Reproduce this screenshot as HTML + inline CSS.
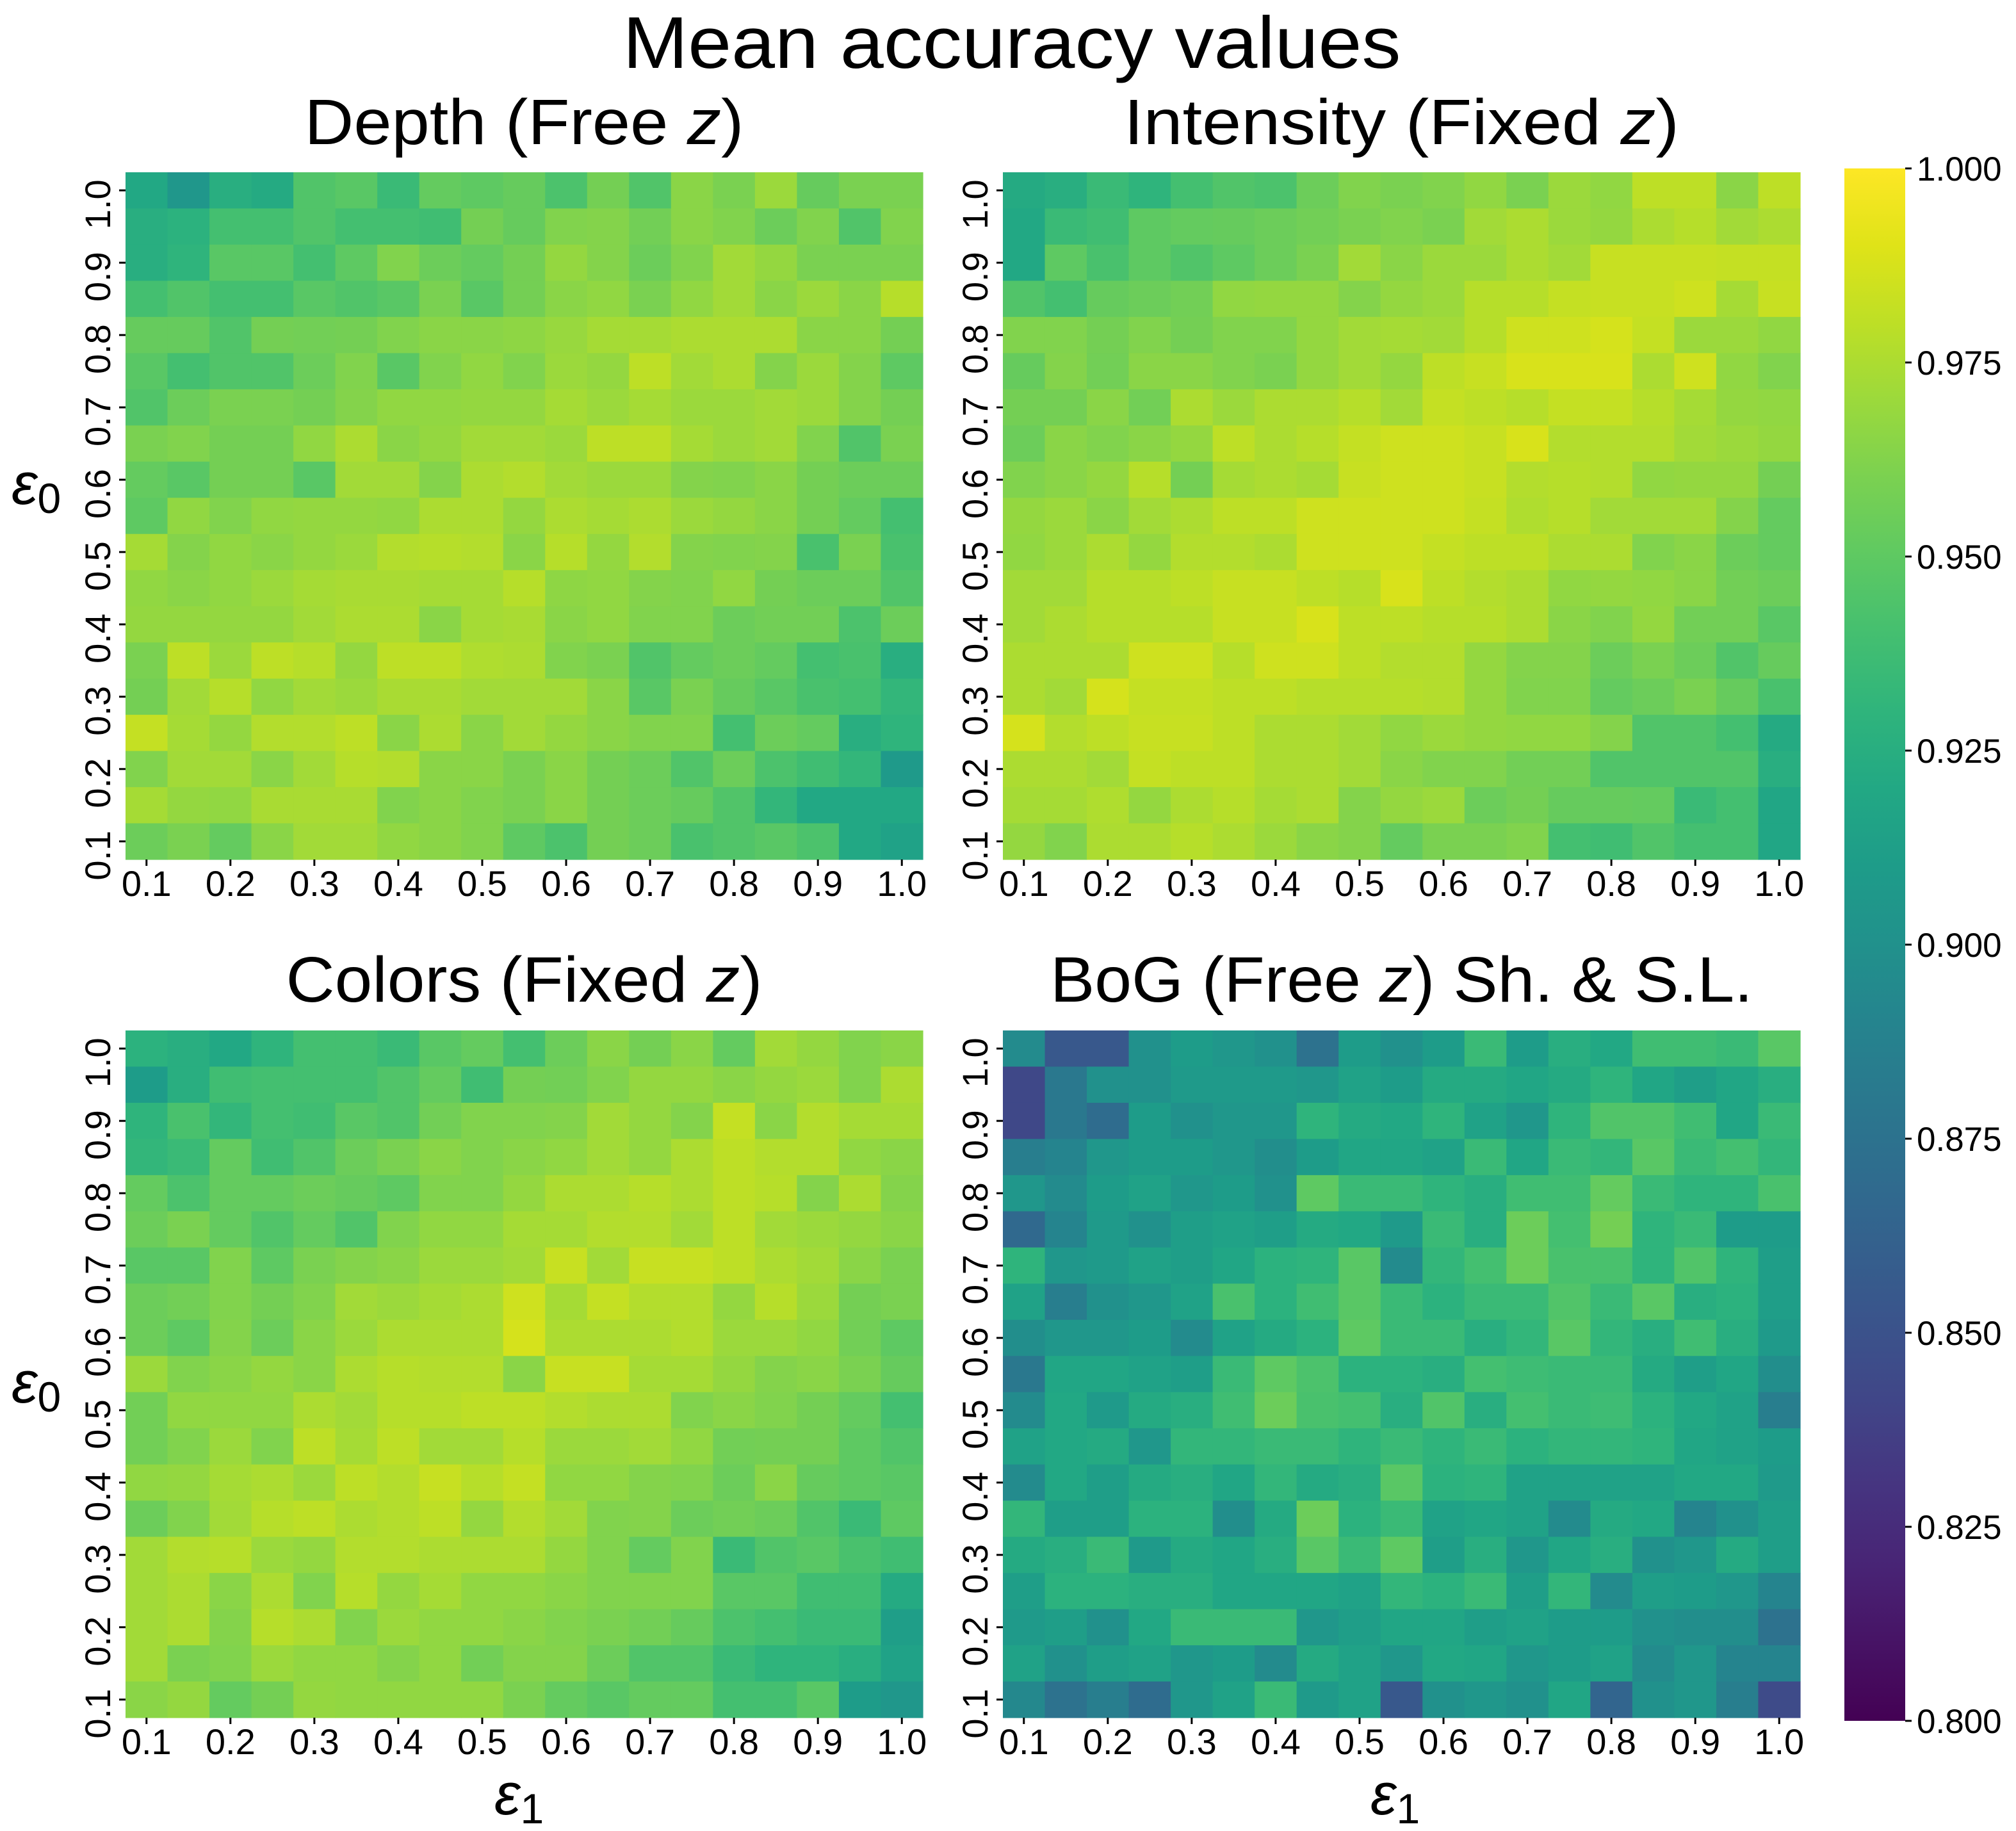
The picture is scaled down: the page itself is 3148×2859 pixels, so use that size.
<!DOCTYPE html>
<html><head><meta charset="utf-8"><style>
html,body{margin:0;padding:0;background:#fff;}
svg{display:block;font-family:"Liberation Sans","DejaVu Sans",sans-serif;}
</style></head><body>
<svg id="fig" width="3148" height="2859" viewBox="0 0 3148 2859" xmlns="http://www.w3.org/2000/svg">
<text x="1580" y="106" font-size="114" text-anchor="middle" textLength="1215" lengthAdjust="spacingAndGlyphs">Mean accuracy values</text>
</svg>
<script>
const epsValues = [0.1,0.15,0.2,0.25,0.3,0.35,0.4,0.45,0.5,0.55,0.6,0.65,0.7,0.75,0.8,0.85,0.9,0.95,1.0];
const xTickLabels = ["0.1","0.2","0.3","0.4","0.5","0.6","0.7","0.8","0.9","1.0"];
const yTickLabels = ["1.0","0.9","0.8","0.7","0.6","0.5","0.4","0.3","0.2","0.1"];
const cbarTicks = [1.000,0.975,0.950,0.925,0.900,0.875,0.850,0.825,0.800];
const vmin = 0.8, vmax = 1.0;
// rows: top (eps0=1.0) to bottom (eps0=0.1); columns eps1 0.1..1.0
const depthValues = [
[0.92,0.905,0.925,0.922,0.945,0.948,0.935,0.952,0.95,0.953,0.943,0.958,0.945,0.965,0.96,0.97,0.953,0.96,0.96],
[0.925,0.928,0.94,0.94,0.945,0.94,0.94,0.938,0.958,0.953,0.962,0.963,0.957,0.965,0.962,0.955,0.962,0.945,0.962],
[0.925,0.93,0.948,0.948,0.94,0.95,0.962,0.955,0.952,0.958,0.968,0.963,0.955,0.962,0.972,0.968,0.96,0.96,0.96],
[0.94,0.945,0.94,0.94,0.948,0.945,0.948,0.96,0.948,0.958,0.965,0.967,0.96,0.967,0.972,0.965,0.97,0.965,0.978],
[0.953,0.953,0.945,0.958,0.957,0.958,0.962,0.965,0.965,0.966,0.969,0.973,0.973,0.975,0.975,0.975,0.965,0.965,0.958],
[0.948,0.94,0.945,0.945,0.955,0.962,0.948,0.962,0.967,0.962,0.97,0.968,0.98,0.972,0.975,0.963,0.97,0.963,0.95],
[0.945,0.955,0.96,0.96,0.958,0.963,0.967,0.967,0.968,0.968,0.973,0.97,0.973,0.97,0.97,0.972,0.97,0.963,0.958],
[0.96,0.962,0.958,0.958,0.967,0.975,0.965,0.968,0.972,0.972,0.97,0.98,0.98,0.973,0.97,0.972,0.962,0.945,0.96],
[0.952,0.948,0.958,0.958,0.948,0.972,0.972,0.963,0.975,0.977,0.972,0.97,0.97,0.963,0.962,0.965,0.958,0.955,0.955],
[0.95,0.967,0.962,0.967,0.968,0.968,0.967,0.975,0.975,0.968,0.975,0.973,0.975,0.97,0.968,0.965,0.958,0.952,0.94],
[0.973,0.963,0.967,0.965,0.968,0.97,0.977,0.978,0.977,0.965,0.978,0.968,0.977,0.963,0.962,0.963,0.942,0.96,0.942],
[0.967,0.965,0.967,0.97,0.973,0.974,0.974,0.973,0.973,0.978,0.966,0.967,0.963,0.962,0.967,0.958,0.955,0.955,0.945],
[0.968,0.968,0.968,0.968,0.972,0.975,0.975,0.965,0.973,0.974,0.965,0.967,0.962,0.962,0.955,0.957,0.957,0.943,0.955],
[0.96,0.98,0.97,0.98,0.978,0.968,0.98,0.98,0.976,0.975,0.962,0.96,0.945,0.952,0.955,0.952,0.94,0.942,0.925],
[0.958,0.972,0.978,0.967,0.972,0.97,0.974,0.974,0.972,0.972,0.972,0.965,0.948,0.96,0.953,0.948,0.942,0.94,0.932],
[0.982,0.973,0.968,0.977,0.977,0.98,0.965,0.975,0.965,0.972,0.968,0.965,0.962,0.962,0.94,0.955,0.952,0.925,0.93],
[0.962,0.972,0.972,0.965,0.972,0.978,0.977,0.965,0.965,0.96,0.965,0.958,0.955,0.945,0.955,0.943,0.938,0.932,0.908],
[0.973,0.968,0.967,0.974,0.974,0.974,0.962,0.965,0.962,0.96,0.965,0.958,0.955,0.953,0.945,0.932,0.92,0.92,0.92],
[0.955,0.96,0.952,0.965,0.972,0.972,0.967,0.965,0.962,0.95,0.943,0.958,0.955,0.942,0.945,0.948,0.943,0.92,0.915]];
const intensityValues = [
[0.922,0.925,0.935,0.93,0.94,0.945,0.943,0.955,0.962,0.96,0.962,0.967,0.96,0.97,0.967,0.98,0.98,0.965,0.98],
[0.92,0.935,0.938,0.95,0.952,0.953,0.955,0.957,0.96,0.962,0.96,0.972,0.975,0.97,0.968,0.975,0.978,0.972,0.975],
[0.92,0.95,0.942,0.95,0.945,0.95,0.955,0.96,0.972,0.965,0.97,0.97,0.975,0.972,0.983,0.983,0.983,0.982,0.982],
[0.945,0.94,0.953,0.955,0.957,0.967,0.968,0.968,0.963,0.968,0.97,0.978,0.978,0.982,0.983,0.983,0.985,0.973,0.983],
[0.962,0.962,0.958,0.962,0.958,0.962,0.962,0.968,0.972,0.973,0.972,0.978,0.985,0.985,0.987,0.982,0.97,0.97,0.967],
[0.953,0.963,0.957,0.965,0.965,0.962,0.96,0.968,0.972,0.968,0.98,0.983,0.988,0.988,0.988,0.975,0.985,0.967,0.962],
[0.958,0.958,0.965,0.957,0.975,0.97,0.975,0.975,0.978,0.972,0.982,0.98,0.978,0.982,0.982,0.978,0.973,0.968,0.967],
[0.955,0.965,0.962,0.965,0.968,0.98,0.975,0.978,0.982,0.985,0.985,0.983,0.988,0.977,0.977,0.977,0.972,0.97,0.968],
[0.962,0.965,0.968,0.978,0.958,0.973,0.975,0.973,0.983,0.985,0.985,0.983,0.977,0.978,0.977,0.967,0.968,0.968,0.958],
[0.968,0.97,0.965,0.972,0.975,0.98,0.98,0.985,0.985,0.985,0.985,0.982,0.976,0.978,0.972,0.972,0.972,0.963,0.952],
[0.967,0.97,0.975,0.968,0.977,0.977,0.975,0.985,0.985,0.985,0.982,0.98,0.98,0.975,0.975,0.962,0.965,0.955,0.952],
[0.972,0.972,0.978,0.978,0.98,0.983,0.983,0.98,0.978,0.988,0.98,0.977,0.975,0.967,0.968,0.967,0.965,0.957,0.955],
[0.972,0.975,0.978,0.978,0.978,0.983,0.983,0.988,0.98,0.98,0.978,0.978,0.975,0.965,0.962,0.968,0.957,0.957,0.948],
[0.975,0.975,0.975,0.985,0.985,0.978,0.985,0.985,0.98,0.977,0.977,0.968,0.963,0.963,0.955,0.96,0.955,0.945,0.953],
[0.975,0.972,0.987,0.982,0.982,0.98,0.98,0.978,0.978,0.978,0.977,0.968,0.962,0.962,0.952,0.955,0.96,0.953,0.942],
[0.987,0.977,0.98,0.983,0.983,0.98,0.975,0.975,0.972,0.967,0.97,0.968,0.967,0.967,0.963,0.945,0.945,0.94,0.922],
[0.975,0.975,0.972,0.982,0.98,0.98,0.975,0.975,0.972,0.965,0.962,0.962,0.957,0.957,0.945,0.945,0.945,0.945,0.925],
[0.973,0.973,0.976,0.968,0.975,0.978,0.973,0.975,0.963,0.968,0.97,0.955,0.958,0.953,0.953,0.952,0.935,0.94,0.918],
[0.968,0.962,0.975,0.975,0.978,0.975,0.97,0.965,0.963,0.952,0.96,0.96,0.962,0.94,0.938,0.945,0.94,0.94,0.918]];
const colorsValues = [
[0.928,0.925,0.92,0.93,0.94,0.94,0.935,0.948,0.952,0.94,0.955,0.965,0.958,0.965,0.952,0.972,0.968,0.962,0.965],
[0.91,0.925,0.938,0.94,0.94,0.94,0.945,0.952,0.938,0.958,0.957,0.962,0.968,0.968,0.965,0.968,0.97,0.962,0.975],
[0.93,0.942,0.932,0.94,0.938,0.948,0.945,0.957,0.962,0.962,0.963,0.972,0.968,0.963,0.982,0.965,0.977,0.973,0.973],
[0.932,0.935,0.952,0.938,0.945,0.955,0.96,0.965,0.962,0.965,0.967,0.972,0.968,0.975,0.98,0.977,0.977,0.967,0.965],
[0.952,0.943,0.952,0.952,0.955,0.953,0.95,0.962,0.962,0.968,0.975,0.975,0.978,0.975,0.98,0.978,0.963,0.975,0.963],
[0.955,0.96,0.952,0.945,0.952,0.945,0.962,0.967,0.967,0.973,0.973,0.977,0.977,0.972,0.98,0.972,0.97,0.968,0.965],
[0.948,0.948,0.962,0.95,0.96,0.963,0.965,0.97,0.97,0.972,0.983,0.972,0.983,0.983,0.98,0.975,0.972,0.965,0.96],
[0.955,0.957,0.962,0.958,0.962,0.972,0.97,0.973,0.975,0.985,0.973,0.982,0.977,0.977,0.968,0.978,0.97,0.958,0.96],
[0.955,0.95,0.963,0.955,0.965,0.97,0.975,0.975,0.975,0.987,0.975,0.975,0.975,0.977,0.97,0.97,0.967,0.957,0.95],
[0.97,0.962,0.965,0.968,0.965,0.975,0.978,0.977,0.977,0.965,0.983,0.983,0.973,0.973,0.968,0.963,0.965,0.96,0.953],
[0.957,0.967,0.967,0.967,0.975,0.972,0.978,0.978,0.98,0.98,0.977,0.975,0.975,0.962,0.965,0.962,0.958,0.952,0.94],
[0.957,0.962,0.97,0.962,0.98,0.973,0.98,0.972,0.972,0.978,0.97,0.97,0.972,0.967,0.957,0.958,0.958,0.95,0.945],
[0.967,0.968,0.973,0.975,0.97,0.98,0.977,0.983,0.978,0.982,0.967,0.967,0.963,0.962,0.955,0.965,0.953,0.95,0.948],
[0.955,0.962,0.972,0.978,0.98,0.975,0.977,0.98,0.968,0.977,0.972,0.962,0.963,0.955,0.957,0.955,0.945,0.935,0.95],
[0.972,0.977,0.978,0.97,0.968,0.977,0.977,0.975,0.975,0.975,0.968,0.962,0.952,0.962,0.935,0.945,0.948,0.942,0.938],
[0.972,0.975,0.965,0.975,0.962,0.978,0.968,0.973,0.967,0.967,0.965,0.962,0.962,0.962,0.948,0.948,0.938,0.938,0.922],
[0.972,0.975,0.963,0.978,0.975,0.962,0.97,0.967,0.967,0.965,0.962,0.96,0.957,0.953,0.943,0.94,0.935,0.935,0.912],
[0.972,0.96,0.962,0.97,0.967,0.967,0.963,0.967,0.957,0.963,0.963,0.955,0.945,0.945,0.935,0.93,0.93,0.925,0.915],
[0.965,0.968,0.952,0.958,0.968,0.967,0.967,0.967,0.967,0.96,0.952,0.948,0.952,0.952,0.94,0.94,0.948,0.91,0.905]];
const bogValues = [
[0.895,0.855,0.855,0.9,0.91,0.905,0.9,0.875,0.91,0.9,0.91,0.935,0.91,0.925,0.92,0.938,0.938,0.935,0.948],
[0.843,0.88,0.9,0.9,0.908,0.908,0.908,0.905,0.915,0.91,0.922,0.922,0.918,0.922,0.93,0.918,0.912,0.918,0.925],
[0.843,0.88,0.87,0.91,0.9,0.905,0.905,0.93,0.922,0.92,0.93,0.915,0.905,0.93,0.945,0.945,0.938,0.918,0.935],
[0.885,0.89,0.905,0.91,0.91,0.905,0.898,0.91,0.918,0.918,0.915,0.935,0.918,0.935,0.932,0.948,0.935,0.94,0.932],
[0.905,0.895,0.91,0.915,0.905,0.91,0.9,0.95,0.935,0.935,0.93,0.925,0.938,0.938,0.952,0.935,0.93,0.93,0.942],
[0.868,0.89,0.908,0.9,0.912,0.915,0.912,0.922,0.92,0.908,0.935,0.925,0.955,0.94,0.958,0.93,0.935,0.91,0.91],
[0.93,0.905,0.908,0.915,0.912,0.918,0.928,0.93,0.948,0.895,0.932,0.94,0.955,0.942,0.942,0.93,0.945,0.93,0.912],
[0.915,0.885,0.9,0.905,0.915,0.942,0.928,0.938,0.948,0.935,0.928,0.935,0.935,0.945,0.935,0.948,0.925,0.928,0.912],
[0.898,0.905,0.905,0.91,0.895,0.915,0.922,0.928,0.95,0.935,0.935,0.925,0.932,0.948,0.932,0.925,0.938,0.925,0.908],
[0.88,0.918,0.918,0.915,0.912,0.935,0.95,0.943,0.928,0.928,0.925,0.94,0.937,0.935,0.935,0.922,0.912,0.918,0.898],
[0.895,0.92,0.908,0.922,0.925,0.938,0.955,0.942,0.94,0.925,0.945,0.925,0.94,0.935,0.937,0.928,0.92,0.915,0.885],
[0.915,0.92,0.922,0.905,0.932,0.932,0.935,0.935,0.93,0.935,0.93,0.935,0.928,0.932,0.932,0.93,0.918,0.915,0.91],
[0.895,0.92,0.912,0.922,0.925,0.918,0.932,0.922,0.925,0.948,0.928,0.93,0.915,0.915,0.915,0.915,0.92,0.92,0.908],
[0.932,0.912,0.912,0.928,0.928,0.898,0.922,0.955,0.928,0.935,0.915,0.918,0.915,0.895,0.922,0.92,0.89,0.9,0.912],
[0.922,0.925,0.935,0.908,0.922,0.918,0.925,0.948,0.935,0.95,0.912,0.925,0.905,0.918,0.925,0.9,0.905,0.922,0.912],
[0.912,0.928,0.928,0.925,0.925,0.918,0.918,0.918,0.915,0.932,0.928,0.935,0.912,0.932,0.895,0.912,0.91,0.905,0.89],
[0.908,0.912,0.9,0.92,0.935,0.935,0.935,0.905,0.912,0.918,0.918,0.912,0.915,0.91,0.91,0.9,0.898,0.898,0.875],
[0.915,0.9,0.912,0.915,0.905,0.91,0.895,0.922,0.915,0.905,0.92,0.918,0.905,0.91,0.915,0.895,0.905,0.89,0.89],
[0.893,0.875,0.885,0.87,0.905,0.915,0.935,0.908,0.915,0.855,0.9,0.905,0.9,0.918,0.865,0.9,0.905,0.885,0.845]];

const NS = "http://www.w3.org/2000/svg";
const svg = document.getElementById('fig');
const VIR = [[0,"#440154"],[0.05,"#471365"],[0.1,"#482475"],[0.15,"#463480"],[0.2,"#414487"],[0.25,"#3b528b"],[0.3,"#355f8d"],[0.35,"#2f6c8e"],[0.4,"#2a788e"],[0.45,"#25848e"],[0.5,"#21918c"],[0.55,"#1e9c89"],[0.6,"#22a884"],[0.65,"#2fb47c"],[0.7,"#44bf70"],[0.75,"#5ec962"],[0.8,"#7ad151"],[0.85,"#9bd93c"],[0.9,"#bddf26"],[0.95,"#dfe318"],[1,"#fde725"]];
function hex(h){return [parseInt(h.substr(1,2),16),parseInt(h.substr(3,2),16),parseInt(h.substr(5,2),16)];}
function viridis(t){
  t=Math.max(0,Math.min(1,t));
  for(let i=0;i<VIR.length-1;i++){
    if(t<=VIR[i+1][0]){
      const f=(t-VIR[i][0])/(VIR[i+1][0]-VIR[i][0]);
      const a=hex(VIR[i][1]),b=hex(VIR[i+1][1]);
      return `rgb(${Math.round(a[0]+(b[0]-a[0])*f)},${Math.round(a[1]+(b[1]-a[1])*f)},${Math.round(a[2]+(b[2]-a[2])*f)})`;
    }
  }
  return VIR[VIR.length-1][1];
}
function mk(tag,attrs,parent){const e=document.createElementNS(NS,tag);for(const k in attrs)e.setAttribute(k,attrs[k]);(parent||svg).appendChild(e);return e;}

const panels = [
 {key:'depth',data:depthValues,x0:196,y0:269,title:['Depth (Free ','z',')'],tl:686,ty:225},
 {key:'intensity',data:intensityValues,x0:1566,y0:269,title:['Intensity (Fixed ','z',')'],tl:867,ty:225},
 {key:'colors',data:colorsValues,x0:196,y0:1609,title:['Colors (Fixed ','z',')'],tl:744,ty:1564},
 {key:'bog',data:bogValues,x0:1566,y0:1609,title:['BoG (Free ','z',') Sh. & S.L.'],tl:1097,ty:1564}
];
const PW=1245, PH=1073, N=epsValues.length;
const cw=PW/N, ch=PH/N;

panels.forEach(p=>{
  const g=mk('g',{});
  
  
  const xScale = j => p.x0 + j*cw;
  const yScale = i => p.y0 + i*ch;
  p.data.forEach((row,i)=>{
    row.forEach((v,j)=>{
      const r=mk('rect',{x:xScale(j).toFixed(2),y:yScale(i).toFixed(2),width:(cw+0.6).toFixed(2),height:(ch+0.6).toFixed(2),fill:viridis((v-vmin)/(vmax-vmin))},g);
      
      
    });
  });
  // title
  const t=mk('text',{x:p.x0+PW/2,y:p.ty,'font-size':100,'text-anchor':'middle',textLength:p.tl,lengthAdjust:'spacingAndGlyphs'});
  
  
  mk('tspan',{},t).textContent=p.title[0];
  mk('tspan',{'font-style':'italic'},t).textContent=p.title[1];
  mk('tspan',{},t).textContent=p.title[2];
  // x ticks
  xTickLabels.forEach((lab,k)=>{
    const cx=xScale(k*2)+cw/2;
    const tk=mk('line',{x1:cx,y1:p.y0+PH,x2:cx,y2:p.y0+PH+10,stroke:'#000','stroke-width':3});
    
    
    const tx=mk('text',{x:cx,y:p.y0+PH+57,'font-size':56,'text-anchor':'middle'});
    
    
    tx.textContent=lab;
  });
  // y ticks
  yTickLabels.forEach((lab,k)=>{
    const cy=yScale(k*2)+ch/2;
    const tk=mk('line',{x1:p.x0-10,y1:cy,x2:p.x0,y2:cy,stroke:'#000','stroke-width':3});
    
    
    const tx=mk('text',{x:0,y:0,'font-size':56,'text-anchor':'middle',transform:`translate(${p.x0-24},${cy+22}) rotate(-90)`});
    
    
    tx.textContent=lab;
  });
});

// axis labels
function epsLabel(x,y,sub,name,mirror){
  const t=mk('text',{x:x,y:y,'font-size':92});
  
  
  const a=mk('tspan',{'font-style':'italic'},t);a.textContent='ε';
  const b=mk('tspan',{'font-size':66,dy:14},t);b.textContent=sub;
  return t;
}
epsLabel(18,787,'0','y-axis-title-top');
epsLabel(18,2190,'0','y-axis-title-bottom');
epsLabel(772,2833,'1','x-axis-title-left');
epsLabel(2140,2833,'1','x-axis-title-right');

// colorbar
const cbX=2880, cbW=95, cbTop=263, cbBot=2687;
const cbScale = v => cbBot - (v-vmin)/(vmax-vmin)*(cbBot-cbTop);
const defs=mk('defs',{});
const grad=mk('linearGradient',{id:'vir',x1:0,y1:1,x2:0,y2:0},defs);
VIR.forEach(s=>mk('stop',{offset:s[0],'stop-color':s[1]},grad));
const cb=mk('rect',{x:cbX,y:cbTop,width:cbW,height:cbBot-cbTop,fill:'url(#vir)'});


cbarTicks.forEach(v=>{
  const y=cbScale(v);
  const tk=mk('line',{x1:cbX+cbW,y1:y,x2:cbX+cbW+10,y2:y,stroke:'#000','stroke-width':3});
  
  
  const tx=mk('text',{x:2993,y:y+19,'font-size':53});
  
  
  tx.textContent=v.toFixed(3);
});
</script>
</body></html>
